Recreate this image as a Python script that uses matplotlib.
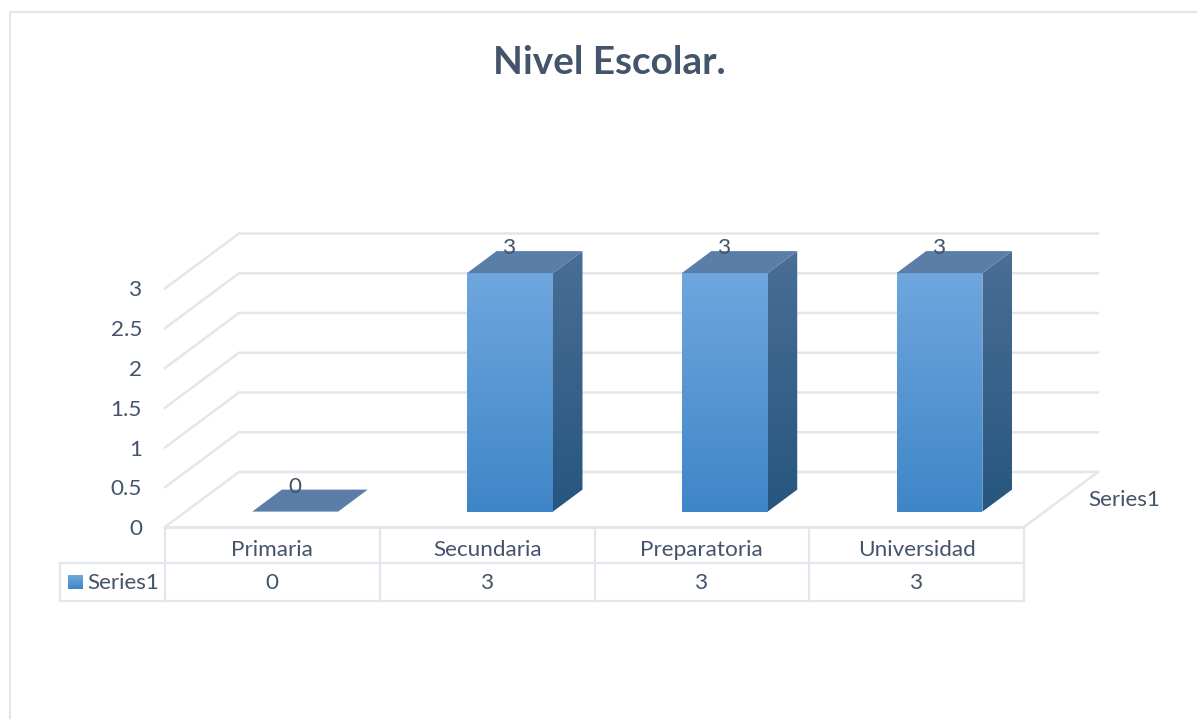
import matplotlib
matplotlib.use("Agg")
import matplotlib.pyplot as plt
import numpy as np
from matplotlib.patches import Polygon

categories = ["Primaria", "Secundaria", "Preparatoria", "Universidad"]
values = [0, 3, 3, 3]
y_ticks = [0, 0.5, 1, 1.5, 2, 2.5, 3]
y_labels = ["0", "0.5", "1", "1.5", "2", "2.5", "3"]
series_name = "Series1"
title = "Nivel Escolar."

W, H = 1197, 719
TEXT = "#44546a"
GRID = "#e3e6ec"
FS = 16.2
plt.rcParams["font.family"] = ["Lato", "DejaVu Sans"]

# oblique projection: depth d (0 front, 1 back) shifts x and y
DX = 74 / 215.0
DZ = 55 / 79.5
BAR_W = 0.4
BAR_LEFT = 0.31
D0, D1 = 0.28, 0.68


def proj(x, z, d):
    return x + d * DX, z + d * DZ


def grad_poly(ax, pts, top, bottom, zorder):
    # vertical gradient clipped to a polygon
    pts = np.array(pts)
    cm = matplotlib.colors.LinearSegmentedColormap.from_list("g", [bottom, top])
    im = ax.imshow(np.linspace(1, 0, 64).reshape(-1, 1), cmap=cm, aspect="auto",
                   extent=(pts[:, 0].min(), pts[:, 0].max(), pts[:, 1].min(), pts[:, 1].max()),
                   zorder=zorder, interpolation="bilinear", vmin=0, vmax=1)
    im.set_clip_path(Polygon(pts, transform=ax.transData))
    # images fall back to the axes box otherwise, and the bars stick out above it
    im.set_clip_box(ax.figure.bbox)


fig = plt.figure(figsize=(W / 100, H / 100), dpi=100)

# pixel overlay for frame and table
bg = fig.add_axes([0, 0, 1, 1])
bg.set_xlim(0, W)
bg.set_ylim(H, 0)
bg.axis("off")
bg.plot([10, 10, W], [H, 12, 12], color=GRID, lw=1.6)
bg.text(609, 63, title, ha="center", va="center", fontsize=27.9, fontweight="bold", color=TEXT)

col_x = [165 + 214.75 * i for i in range(len(categories) + 1)]
for y in [527, 563, 601]:
    bg.plot([col_x[0], col_x[-1]], [y, y], color=GRID, lw=2 if y == 527 else 1.6)
for x in col_x:
    bg.plot([x, x], [527, 601], color=GRID, lw=1.6)
bg.plot([60, 165], [563, 563], color=GRID, lw=1.6)
bg.plot([60, 165], [601, 601], color=GRID, lw=1.6)
bg.plot([60, 60], [563, 601], color=GRID, lw=1.6)
for i, cat in enumerate(categories):
    xc = (col_x[i] + col_x[i + 1]) / 2
    bg.text(xc, 550, cat, ha="center", va="center", fontsize=FS, color=TEXT)
    bg.text(xc, 583, str(values[i]), ha="center", va="center", fontsize=FS, color=TEXT)
bg.text(87, 583, series_name, ha="left", va="center", fontsize=FS, color=TEXT)
bg.imshow(np.linspace(1, 0, 32).reshape(-1, 1), aspect="auto", extent=(68, 83, 589, 575),
          cmap=matplotlib.colors.LinearSegmentedColormap.from_list("l", ["#3f86c8", "#6fa6de"]))
bg.set_xlim(0, W)
bg.set_ylim(H, 0)

# chart axes: the front plane of the 3d box
ax = fig.add_axes([165 / W, (H - 527) / H, 859 / W, 238.5 / H])
ax.patch.set_alpha(0)
ax.set_xlim(0, len(categories))
ax.set_ylim(0, 3)
for s in ax.spines.values():
    s.set_visible(False)
ax.set_xticks([])
ax.set_yticks(y_ticks)
ax.set_yticklabels(y_labels, fontsize=FS, color=TEXT)
ax.tick_params(axis="y", length=0, pad=16.5)

n = len(categories)
for t in y_ticks:
    xs = [proj(0, t, 0)[0], proj(0, t, 1)[0], proj(n, t, 1)[0]]
    zs = [proj(0, t, 0)[1], proj(0, t, 1)[1], proj(n, t, 1)[1]]
    ax.plot(xs, zs, color=GRID, lw=1.8, clip_on=False, zorder=1, solid_joinstyle="miter")
ax.plot([proj(n, 0, 0)[0], proj(n, 0, 1)[0]], [0, DZ], color=GRID, lw=1.8, clip_on=False, zorder=1)

for i, v in enumerate(values):
    x0 = i + BAR_LEFT
    x1 = x0 + BAR_W
    front = [proj(x0, 0, D0), proj(x1, 0, D0), proj(x1, v, D0), proj(x0, v, D0)]
    side = [proj(x1, 0, D0), proj(x1, 0, D1), proj(x1, v, D1), proj(x1, v, D0)]
    top = [proj(x0, v, D0), proj(x1, v, D0), proj(x1, v, D1), proj(x0, v, D1)]
    if v > 0:
        grad_poly(ax, side, "#4a6e96", "#26567f", 3)
        grad_poly(ax, front, "#6fa6de", "#3f86c8", 4)
    ax.add_patch(Polygon(top, closed=True, fc="#5a7ea8", ec="none", zorder=5, clip_on=False))
    cx, cz = proj((x0 + x1) / 2, v, D0)
    ax.annotate(str(v), (cx, cz), xytext=(0, 18), textcoords="offset points", ha="center",
                va="center", fontsize=FS, color=TEXT, zorder=6, annotation_clip=False)

ax.set_xlim(0, len(categories))
ax.set_ylim(0, 3)
ax.annotate(series_name, proj(n, 0, 0.5), xytext=(27, 0), textcoords="offset pixels", ha="left",
            va="center", fontsize=FS, color=TEXT, annotation_clip=False)

fig.savefig("out.png", dpi=100)
